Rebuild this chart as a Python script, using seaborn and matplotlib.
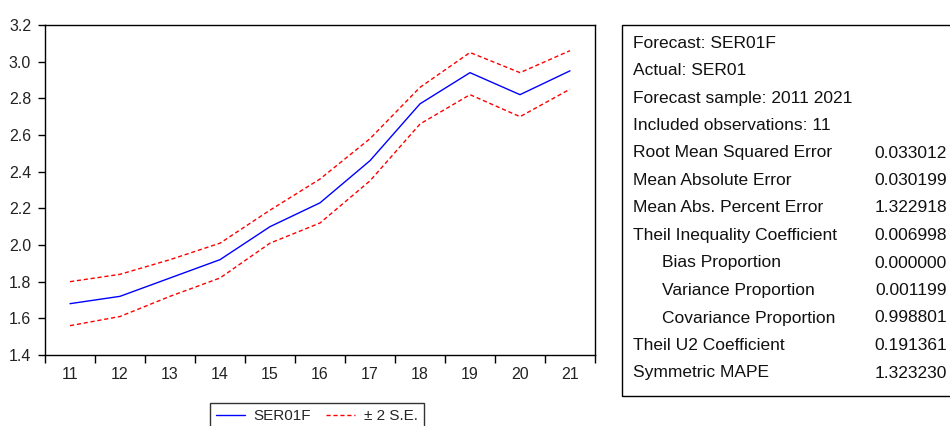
import matplotlib
matplotlib.use("Agg")
import matplotlib.pyplot as plt
import seaborn as sns
import pandas as pd
from matplotlib.patches import Rectangle
from matplotlib.lines import Line2D

# ---- data ----
periods = [11, 12, 13, 14, 15, 16, 17, 18, 19, 20, 21]
forecast = [1.68, 1.72, 1.82, 1.92, 2.10, 2.23, 2.46, 2.77, 2.94, 2.82, 2.95]
upper = [1.80, 1.84, 1.92, 2.01, 2.19, 2.36, 2.58, 2.86, 3.05, 2.94, 3.06]
lower = [1.56, 1.61, 1.72, 1.82, 2.01, 2.12, 2.35, 2.66, 2.82, 2.70, 2.85]
y_ticks = [1.4, 1.6, 1.8, 2.0, 2.2, 2.4, 2.6, 2.8, 3.0, 3.2]

stat_labels = ["Forecast: SER01F", "Actual: SER01", "Forecast sample: 2011 2021",
               "Included observations: 11", "Root Mean Squared Error",
               "Mean Absolute Error", "Mean Abs. Percent Error",
               "Theil Inequality Coefficient", "Bias Proportion",
               "Variance Proportion", "Covariance Proportion",
               "Theil U2 Coefficient", "Symmetric MAPE"]
stat_values = ["", "", "", "", "0.033012", "0.030199", "1.322918", "0.006998",
               "0.000000", "0.001199", "0.998801", "0.191361", "1.323230"]
stat_indent = [0, 0, 0, 0, 0, 0, 0, 0, 1, 1, 1, 0, 0]

sns.set_theme(style="ticks")
plt.rcParams["font.family"] = ["Liberation Sans", "DejaVu Sans"]

W, H = 950, 426
fig = plt.figure(figsize=(W / 100, H / 100), dpi=100)
ax = fig.add_axes([45 / W, (H - 355) / H, 550 / W, 330 / H])

df = pd.DataFrame({"period": periods, "forecast": forecast,
                   "upper": upper, "lower": lower})
sns.lineplot(data=df, x="period", y="forecast", ax=ax, color="#0000ff", lw=1)
sns.lineplot(data=df, x="period", y="upper", ax=ax, color="#ff0000", lw=1,
             linestyle=(0, (3, 2)))
sns.lineplot(data=df, x="period", y="lower", ax=ax, color="#ff0000", lw=1,
             linestyle=(0, (3, 2)))

ax.set_xlim(periods[0] - 0.5, periods[-1] + 0.5)
ax.set_ylim(y_ticks[0], y_ticks[-1])
ax.set_xlabel("")
ax.set_ylabel("")
ax.set_xticks(periods)
ax.set_xticklabels([str(p) for p in periods])
ax.set_xticks([p - 0.5 for p in periods] + [periods[-1] + 0.5], minor=True)
ax.tick_params(axis="x", which="major", length=0, pad=8.5, labelsize=11.5,
               labelcolor="#222222")
ax.tick_params(axis="x", which="minor", length=6, width=1, color="black",
               direction="out")
ax.set_yticks(y_ticks)
ax.set_yticklabels([f"{v:.1f}" for v in y_ticks])
ax.tick_params(axis="y", which="major", length=5, width=1, color="black",
               direction="out", pad=5, labelsize=11.5, labelcolor="#222222")
for s in ax.spines.values():
    s.set_visible(True)
    s.set_color("black")
    s.set_linewidth(1)

# legend
handles = [Line2D([], [], color="#0000ff", lw=1),
           Line2D([], [], color="#ff0000", lw=1, linestyle=(0, (3, 2)))]
leg = fig.legend(handles, ["SER01F", "± 2 S.E."], ncol=2,
                 loc="upper left", bbox_to_anchor=(210 / W, 1 - 403 / H),
                 frameon=True, fancybox=False, edgecolor="black",
                 fontsize=11, handlelength=1.9, columnspacing=1.0,
                 handletextpad=0.55, borderaxespad=0, borderpad=0.4)
leg.get_frame().set_linewidth(1)

# statistics box
fig.add_artist(Rectangle((622 / W, 1 - 396 / H), (W + 5 - 622) / W, (396 - 25) / H,
                         transform=fig.transFigure, fill=False,
                         edgecolor="black", lw=1, clip_on=False))
y0 = 43
dy = 27.5
for i, (lab, val, ind) in enumerate(zip(stat_labels, stat_values, stat_indent)):
    yy = 1 - (y0 + i * dy) / H
    fig.text((633 + 29 * ind) / W, yy, lab, fontsize=12.5, va="center",
             ha="left", color="#111111")
    if val:
        fig.text(947 / W, yy, val, fontsize=12.5, va="center", ha="right",
                 color="#111111")

fig.savefig("out.png", dpi=100)
